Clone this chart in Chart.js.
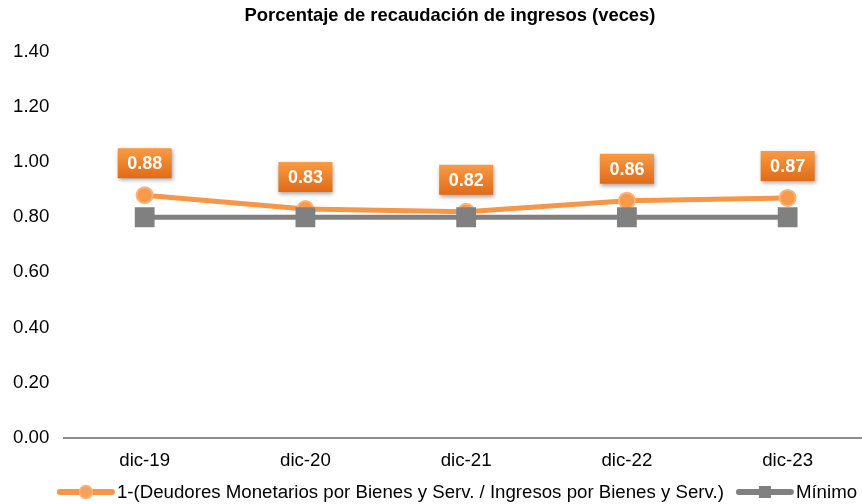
<!DOCTYPE html>
<html><head><meta charset="utf-8">
<script src="https://cdn.jsdelivr.net/npm/chart.js@4/dist/chart.umd.min.js"></script>
<style>html,body{margin:0;padding:0;overflow:hidden;background:#fff}canvas{display:block}</style>
</head><body><canvas id="c" width="868" height="504"></canvas>
<script>
const categories = ['dic-19','dic-20','dic-21','dic-22','dic-23'];
const ratioValues = [0.88, 0.83, 0.82, 0.86, 0.87];
const minimumValues = [0.80, 0.80, 0.80, 0.80, 0.80];
const ratioLabel = '1-(Deudores Monetarios por Bienes y Serv. / Ingresos por Bienes y Serv.)';
const minimumLabel = 'Mínimo';
const titleText = 'Porcentaje de recaudación de ingresos (veces)';

const ORANGE = '#F79646', GRAY = '#808080';
const FONT = '"Liberation Sans", Arial, sans-serif';
const FS = 18.67;

function drawIcon(ctx, x, y, color, marker) {
  ctx.save();
  ctx.strokeStyle = color; ctx.lineWidth = 6; ctx.lineCap = 'round';
  ctx.beginPath(); ctx.moveTo(x + 3, y); ctx.lineTo(x + 55, y); ctx.stroke();
  if (marker === 'circle') {
    ctx.beginPath(); ctx.arc(x + 29, y, 6.5, 0, Math.PI * 2);
    ctx.fillStyle = '#F8A15E'; ctx.fill();
    ctx.strokeStyle = '#FBB57F'; ctx.lineWidth = 1.5; ctx.stroke();
  } else {
    ctx.fillStyle = color; ctx.fillRect(x + 23, y - 6, 12, 12);
  }
  ctx.restore();
}

const titleLegendPlugin = {
  id: 'titleLegend',
  afterDraw(chart) {
    const ctx = chart.ctx;
    ctx.save();
    ctx.fillStyle = '#000';
    ctx.font = 'bold 18.4px ' + FONT;
    ctx.textAlign = 'center'; ctx.textBaseline = 'middle';
    ctx.fillText(titleText, 450, 16);

    ctx.textAlign = 'left';
    ctx.font = FS + 'px ' + FONT;
    const items = chart.data.datasets.map((ds, i) => ({ ds, w: ctx.measureText(ds.label).width }));
    const iconW = 58, gap = 2, itemGap = 12;
    const total = items.reduce((s, it) => s + iconW + gap + it.w, 0) + itemGap * (items.length - 1);
    let x = 457 - total / 2;
    const y = 492;
    items.forEach((it, i) => {
      drawIcon(ctx, x, y, it.ds.borderColor, i === 0 ? 'circle' : 'rect');
      x += iconW + gap;
      ctx.fillText(it.ds.label, x, y + 1);
      x += it.w + itemGap;
    });
    ctx.restore();
  }
};

const labelPlugin = {
  id: 'boxLabels',
  afterDatasetsDraw(chart) {
    const ctx = chart.ctx;
    const meta = chart.getDatasetMeta(0);
    meta.data.forEach((pt, i) => {
      const w = 54, h = 30;
      const cx = pt.x, cy = pt.y - 32;
      ctx.save();
      ctx.shadowColor = 'rgba(0,0,0,0.35)';
      ctx.shadowBlur = 4; ctx.shadowOffsetX = 1; ctx.shadowOffsetY = 2;
      const g = ctx.createLinearGradient(0, cy - h / 2, 0, cy + h / 2);
      g.addColorStop(0, '#F99A44');
      g.addColorStop(1, '#E06B17');
      ctx.fillStyle = g;
      ctx.fillRect(cx - w / 2, cy - h / 2, w, h);
      ctx.restore();
      ctx.save();
      ctx.fillStyle = '#fff';
      ctx.font = 'bold 18px ' + FONT;
      ctx.textAlign = 'center'; ctx.textBaseline = 'middle';
      ctx.fillText(ratioValues[i].toFixed(2), cx, cy + 1);
      ctx.restore();
    });
  }
};

new Chart(document.getElementById('c'), {
  type: 'line',
  data: {
    labels: categories,
    datasets: [
      {
        label: ratioLabel, data: ratioValues,
        borderColor: ORANGE, backgroundColor: '#F8A15E', borderWidth: 5,
        pointRadius: 8, pointHoverRadius: 8, pointBorderColor: '#FBB37A', pointBorderWidth: 2,
        pointBackgroundColor: '#F79A4C', pointStyle: 'circle', order: 2
      },
      {
        label: minimumLabel, data: minimumValues,
        borderColor: GRAY, backgroundColor: GRAY, borderWidth: 5,
        pointRadius: 14, pointHoverRadius: 14, pointStyle: 'rect',
        pointBackgroundColor: GRAY, pointBorderColor: GRAY, pointBorderWidth: 0, order: 1
      }
    ]
  },
  options: {
    responsive: false, animation: false,
    layout: { autoPadding: false, padding: { left: -2, right: 0, top: 52, bottom: 20 } },
    plugins: {
      tooltip: { enabled: false },
      legend: { display: false },
      title: { display: false }
    },
    scales: {
      x: {
        offset: true,
        grid: { display: false, drawTicks: false },
        border: { display: true, color: '#8c8c8c', width: 2 },
        ticks: { color: '#000', padding: 12, font: { family: FONT, size: FS } }
      },
      y: {
        min: 0, max: 1.4,
        grid: { display: false, drawTicks: false },
        border: { display: false },
        ticks: {
          stepSize: 0.2, color: '#000', padding: 15,
          font: { family: FONT, size: FS },
          callback: v => Number(v).toFixed(2)
        }
      }
    }
  },
  plugins: [labelPlugin, titleLegendPlugin]
});
</script>
</body></html>
